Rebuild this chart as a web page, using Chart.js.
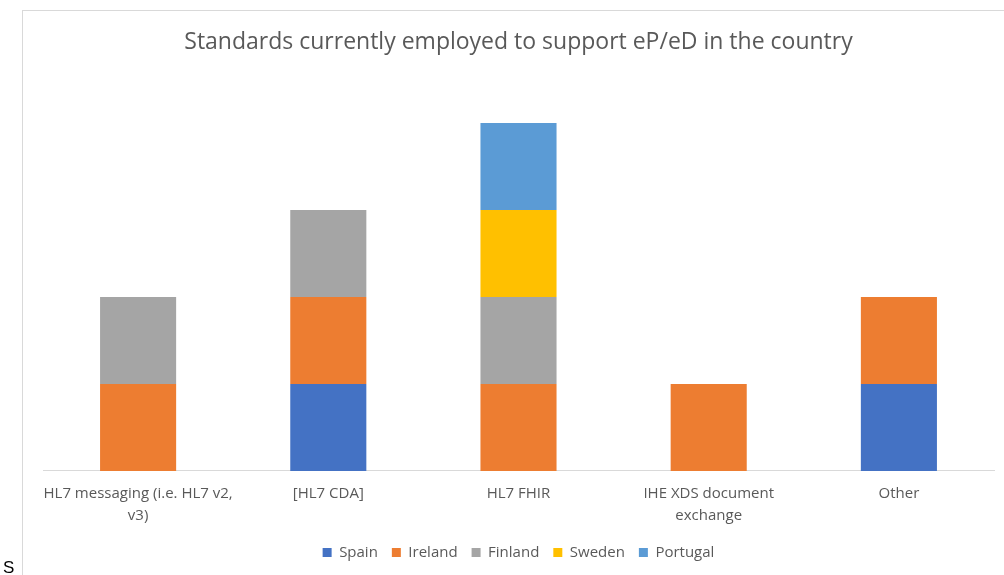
<!DOCTYPE html>
<html>
<head>
<meta charset="utf-8">
<script src="https://cdn.jsdelivr.net/npm/chart.js@4"></script>
<style>
    html, body { margin: 0; padding: 0; background: #fff; }
    body { width: 1004px; height: 575px; position: relative; overflow: hidden; }
    #frame { position: absolute; left: 22px; top: 10px; width: 1000px; height: 600px; border: 1px solid #d9d9d9; }
    #wrap { position: absolute; left: 0; top: 0; width: 1004px; height: 575px; }
    #stray { position: absolute; left: 3px; top: 558px; font-family: "Liberation Sans", Arial, sans-serif; font-size: 17px; color: #000; }
</style>
</head>
<body>
<div id="frame"></div>
<div id="wrap"><canvas id="chart" width="1004" height="575"></canvas></div>
<div id="stray">S</div>
<script>
const categories = [
    ['HL7 messaging (i.e. HL7 v2,', 'v3)'],
    '[HL7 CDA]',
    'HL7 FHIR',
    ['IHE XDS document', 'exchange'],
    'Other'
];
const spain = [0, 1, 0, 0, 1];
const ireland = [1, 1, 1, 1, 1];
const finland = [1, 1, 1, 0, 0];
const sweden = [0, 0, 1, 0, 0];
const portugal = [0, 0, 1, 0, 0];

function ds(label, data, color) {
    return {
        label: label,
        data: data,
        backgroundColor: color,
        borderWidth: 0,
        categoryPercentage: 1,
        barPercentage: 0.4
    };
}

new Chart(document.getElementById('chart'), {
    type: 'bar',
    data: {
        labels: categories,
        datasets: [
            ds('Spain', spain, '#4472C4'),
            ds('Ireland', ireland, '#ED7D31'),
            ds('Finland', finland, '#A5A5A5'),
            ds('Sweden', sweden, '#FFC000'),
            ds('Portugal', portugal, '#5B9BD5')
        ]
    },
    options: {
        responsive: false,
        animation: false,
        layout: {
            padding: { left: 43, right: 10, top: 0, bottom: 5 }
        },
        plugins: {
            title: {
                display: true,
                text: 'Standards currently employed to support eP/eD in the country',
                color: '#595959',
                font: { family: 'Open Sans', size: 23, weight: 'normal' },
                padding: { top: 29, bottom: 23 }
            },
            legend: {
                position: 'bottom',
                labels: {
                    color: '#595959',
                    font: { family: 'Open Sans', size: 15 },
                    boxWidth: 9,
                    boxHeight: 9,
                    padding: 14
                }
            },
            tooltip: { enabled: false }
        },
        scales: {
            x: {
                stacked: true,
                grid: { display: false },
                border: { color: '#d9d9d9', width: 1 },
                ticks: {
                    color: '#595959',
                    font: { family: 'Open Sans', size: 15, lineHeight: 1.47 },
                    maxRotation: 0,
                    autoSkip: false,
                    padding: 4
                }
            },
            y: {
                stacked: true,
                display: false,
                min: 0,
                max: 4.5
            }
        }
    }
});
</script>
</body>
</html>
